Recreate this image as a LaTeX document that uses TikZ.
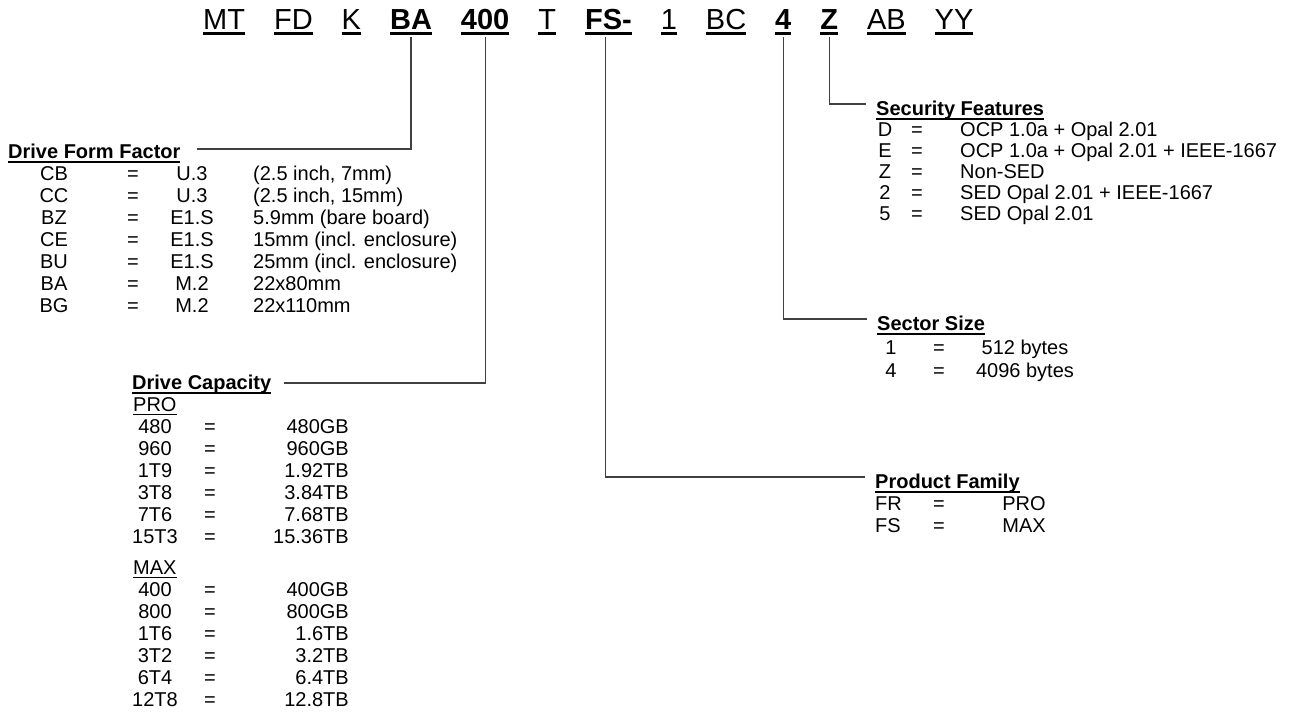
\documentclass[tikz,border=0pt]{standalone}
\usepackage{fontspec}
\setmainfont{Liberation Sans}
\usetikzlibrary{positioning}

% underline drawn as a rule below the text
\newcommand{\barunder}[3]{\setbox0=\hbox{#3}\rlap{\vrule width\wd0 height -#1 depth #2}\box0}
\newcommand{\codeul}[1]{\barunder{3pt}{5.5pt}{#1}}
\newcommand{\headul}[1]{\barunder{2.5pt}{4.5pt}{\bfseries #1}}
\newcommand{\subul}[1]{\barunder{2.5pt}{4pt}{#1}}

\tikzset{
  code/.style={font=\fontsize{29}{32}\selectfont, inner sep=0pt, anchor=base west},
  body/.style={font=\fontsize{20}{22}\selectfont, inner sep=0pt},
  head/.style={body, anchor=base west},
  link/.style={line width=1.3pt, draw=black!75}
}

\begin{document}
\begin{tikzpicture}[x=1pt, y=-1pt]
\useasboundingbox (0,0) rectangle (1311,724);

% part number
\node[code] (mt) at (203,29) {\codeul{MT}};
\node[code, base right=28.6pt of mt] (fd) {\codeul{FD}};
\node[code, base right=28.6pt of fd] (k) {\codeul{K}};
\node[code, base right=28.6pt of k] (ff) {\codeul{\bfseries BA}};
\node[code, base right=28.6pt of ff] (dc) {\codeul{\bfseries 400}};
\node[code, base right=28.6pt of dc] (t) {\codeul{T}};
\node[code, base right=28.6pt of t] (pf) {\codeul{\bfseries FS-}};
\node[code, base right=28.6pt of pf] (one) {\codeul{1}};
\node[code, base right=28.6pt of one] (bc) {\codeul{BC}};
\node[code, base right=28.6pt of bc] (ss) {\codeul{\bfseries 4}};
\node[code, base right=28.6pt of ss] (sf) {\codeul{\bfseries Z}};
\node[code, base right=28.6pt of sf] (ab) {\codeul{AB}};
\node[code, base right=28.6pt of ab] (yy) {\codeul{YY}};

% headings
\node[head] (ffHead) at (8,158) {\headul{Drive Form Factor}};
\node[head] (dcHead) at (132,389) {\headul{Drive Capacity}};
\node[head] (sfHead) at (876,115) {\headul{Security Features}};
\node[head] (ssHead) at (877,330) {\headul{Sector Size}};
\node[head] (pfHead) at (875,488) {\headul{Product Family}};

% drive form factor
\foreach \c/\t/\d [count=\i] in {{CB/U.3/(2.5 inch, 7mm)}, {CC/U.3/(2.5 inch, 15mm)},
    {BZ/E1.S/5.9mm (bare board)}, {CE/E1.S/15mm (incl. enclosure)},
    {BU/E1.S/25mm (incl. enclosure)}, {BA/M.2/22x80mm}, {BG/M.2/22x110mm}} {
  \node[body, anchor=base] (ffc\i) at (54,{158+22*\i}) {\c};
  \node[body, anchor=base] (ffe\i) at (133,{158+22*\i}) {=};
  \node[body, anchor=base] (fft\i) at (192,{158+22*\i}) {\t};
  \node[body, anchor=base west] (ffd\i) at (253,{158+22*\i}) {\d};
}

% drive capacity
\node[body, anchor=base west] (proLbl) at (133,411) {\subul{PRO}};
\foreach \c/\v [count=\i] in {480/480GB, 960/960GB, 1T9/1.92TB, 3T8/3.84TB, 7T6/7.68TB, 15T3/15.36TB} {
  \node[body, anchor=base] (proc\i) at (155,{411+22*\i}) {\c};
  \node[body, anchor=base] (proe\i) at (210,{411+22*\i}) {=};
  \node[body, anchor=base east] (prov\i) at (349,{411+22*\i}) {\v};
}
\node[body, anchor=base west] (maxLbl) at (133,574) {\subul{MAX}};
\foreach \c/\v [count=\i] in {400/400GB, 800/800GB, 1T6/1.6TB, 3T2/3.2TB, 6T4/6.4TB, 12T8/12.8TB} {
  \node[body, anchor=base] (maxc\i) at (155,{574+22*\i}) {\c};
  \node[body, anchor=base] (maxe\i) at (210,{574+22*\i}) {=};
  \node[body, anchor=base east] (maxv\i) at (349,{574+22*\i}) {\v};
}

% security features
\foreach \c/\d [count=\i] in {D/OCP 1.0a + Opal 2.01, E/OCP 1.0a + Opal 2.01 + IEEE-1667,
    Z/Non-SED, 2/SED Opal 2.01 + IEEE-1667, 5/SED Opal 2.01} {
  \node[body, anchor=base] (sfc\i) at (885,{115+21*\i}) {\c};
  \node[body, anchor=base] (sfe\i) at (917,{115+21*\i}) {=};
  \node[body, anchor=base west] (sfd\i) at (960,{115+21*\i}) {\d};
}

% sector size
\foreach \c/\v [count=\i] in {1/512 bytes, 4/4096 bytes} {
  \node[body, anchor=base] (ssc\i) at (891,{331+23*\i}) {\c};
  \node[body, anchor=base] (sse\i) at (939,{331+23*\i}) {=};
  \node[body, anchor=base] (ssv\i) at (1025,{331+23*\i}) {\v};
}

% product family
\foreach \c/\v [count=\i] in {FR/PRO, FS/MAX} {
  \node[body, anchor=base west] (pfc\i) at (875,{488+22*\i}) {\c};
  \node[body, anchor=base] (pfe\i) at (939,{488+22*\i}) {=};
  \node[body, anchor=base] (pfv\i) at (1024,{488+22*\i}) {\v};
}

% connectors
\draw[link, shorten <=2.5pt, shorten >=16pt] (ff.south) |- ([yshift=4pt]ffHead.east);
\draw[link, shorten <=2.5pt, shorten >=13pt] (dc.south) |- ([yshift=1pt]dcHead.east);
\draw[link, shorten <=2.5pt, shorten >=10pt] ([xshift=-3pt]pf.south) |- ([yshift=6pt]pfHead.west);
\draw[link, shorten <=2.5pt, shorten >=10pt] (ss.south) |- ([yshift=6pt]ssHead.west);
\draw[link, shorten <=2.5pt, shorten >=10pt] (sf.south) |- ([yshift=6pt]sfHead.west);

\end{tikzpicture}
\end{document}
